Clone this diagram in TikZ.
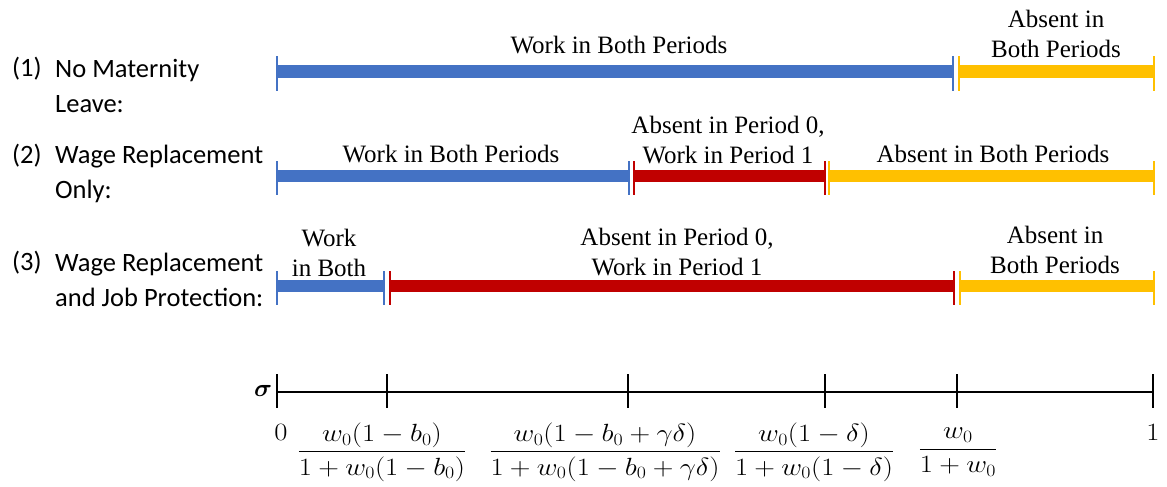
\documentclass[tikz,border=0pt]{standalone}
\usepackage{amsmath}
\usepackage{bm}
\usepackage{graphicx}
\usepackage{fontspec}
\newfontfamily\labfont{Carlito}
\newfontfamily\serfont{Liberation Serif}
\definecolor{cblue}{HTML}{4472C4}
\definecolor{cred}{HTML}{C00000}
\definecolor{cyel}{HTML}{FFC000}
\newcommand{\wmath}[1]{\scalebox{1.15}[1]{$\displaystyle #1$}}
\tikzset{
  seg/.style={line width=12pt},
  tk/.style={line width=2.6pt},
  barlab/.style={font=\serfont\fontsize{25}{30}\selectfont, align=center, anchor=base, inner sep=0pt},
  leftlab/.style={font=\labfont\fontsize{26.5}{35}\selectfont, align=left, anchor=base west, inner sep=0pt},
  axlab/.style={font=\fontsize{23}{27}\selectfont, inner sep=0pt},
}
\begin{document}
\begin{tikzpicture}[x=1pt,y=-1pt]
\useasboundingbox (0,0) rectangle (1167,487);
% ---------- left labels (anchor = baseline of last line)
\node[leftlab] (n1) at (12,77) {(1)};
\node[leftlab] (t1) at (55,112) {No Maternity\\Leave:};
\node[leftlab] (n2) at (12,163) {(2)};
\node[leftlab] (t2) at (55,198) {Wage Replacement\\Only:};
\node[leftlab] (n3) at (12,270) {(3)};
\node[leftlab] (t3) at (55,306) {Wage Replacement\\and Job Protection:};
% ---------- bars
\foreach \name/\xa/\xb/\yy/\col in {
  r1a/277/953/71.5/cblue, r1b/959/1154/71.5/cyel,
  r2a/277/629/176/cblue, r2b/634/825/176/cred, r2c/829/1154/176/cyel,
  r3a/277/384/286/cblue, r3b/390/954/286/cred, r3c/960/1154/286/cyel}{
  \coordinate (\name-l) at (\xa,\yy);
  \coordinate (\name-r) at (\xb,\yy);
  \draw[seg,\col] (\name-l) -- (\name-r);
  \draw[tk,\col] ([yshift=15pt]\name-l) -- ([yshift=-19pt]\name-l);
  \draw[tk,\col] ([yshift=15pt]\name-r) -- ([yshift=-19pt]\name-r);
}
% ---------- bar labels (anchor = baseline of last line)
\node[barlab] (l1a) at (619,54) {Work in Both Periods};
\node[barlab] (l1b) at (1056,58) {Absent in\\Both Periods};
\node[barlab] (l2a) at (451,162) {Work in Both Periods};
\node[barlab] (l2b) at (728,163) {Absent in Period 0,\\Work in Period 1};
\node[barlab] (l2c) at (993,162) {Absent in Both Periods};
\node[barlab] (l3a) at (329,276) {Work\\in Both};
\node[barlab] (l3b) at (677,275) {Absent in Period 0,\\Work in Period 1};
\node[barlab] (l3c) at (1055,273) {Absent in\\Both Periods};
% ---------- axis
\foreach \name/\xx in {a0/277,a1/387,a2/628,a3/825,a4/957,a5/1153}{
  \coordinate (\name) at (\xx,392);
  \draw[tk,black] ([yshift=18pt]\name) -- ([yshift=-16pt]\name);
}
\draw[tk,black] (a0) -- (a5);
\node[axlab,font=\fontsize{27}{30}\selectfont] (sig) at (263,391) {$\bm{\sigma}$};
\node[axlab] (z0) at (281,432) {\wmath{0}};
\node[axlab] (z1) at (1153,432) {\wmath{1}};
\node[axlab] (f1) at (382,452) {\wmath{\frac{w_0(1-b_0)}{1+w_0(1-b_0)}}};
\node[axlab] (f2) at (605,452) {\wmath{\frac{w_0(1-b_0+\gamma\delta)}{1+w_0(1-b_0+\gamma\delta)}}};
\node[axlab] (f3) at (814,452) {\wmath{\frac{w_0(1-\delta)}{1+w_0(1-\delta)}}};
\node[axlab] (f4) at (958,452) {\wmath{\frac{w_0}{1+w_0}}};
\end{tikzpicture}
\end{document}
